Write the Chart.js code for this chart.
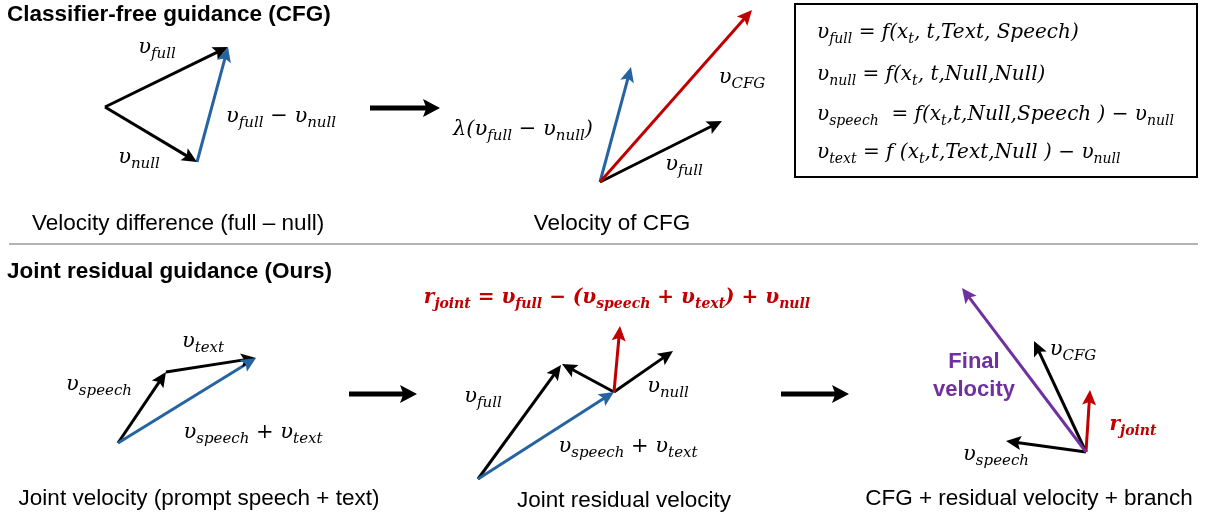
<!DOCTYPE html>
<html>
<head>
<meta charset="utf-8">
<title>CFG vs joint residual guidance</title>
<script src="https://cdn.jsdelivr.net/npm/chart.js@4.4.1/dist/chart.umd.min.js"></script>
<style>
  html, body { margin: 0; padding: 0; background: #fff; }
  #wrap { width: 1207px; height: 519px; }
</style>
</head>
<body>
<div id="wrap"><canvas id="diagram" width="1207" height="519"></canvas></div>
<script>
// vectors of the figure, in figure units (x right, y down)
const vectorNames = [
  'cfg_full', 'cfg_null', 'cfg_diff',
  'cfg2_diff', 'cfg2_full', 'cfg2_cfg',
  'joint_speech', 'joint_text', 'joint_sum',
  'res_full', 'res_back', 'res_null', 'res_sum', 'res_r',
  'fin_speech', 'fin_cfg', 'fin_r', 'fin_final'
];
const vectorStart = [
  [105, 107], [105, 107], [197, 162],
  [600, 182], [600, 182], [600, 182],
  [118, 443], [166, 372], [118, 443],
  [478, 479], [614, 392], [614, 392], [478, 479], [614, 392],
  [1086, 452], [1086, 452], [1086, 452], [1086, 452]
];
const vectorEnd = [
  [228, 47], [197, 162], [228, 47],
  [631, 67], [722, 121], [752, 10],
  [166, 372], [256, 358], [256, 358],
  [561, 365], [562, 364], [673, 351], [614, 392], [620, 326],
  [1006, 441], [1034, 341], [1090, 390], [962, 288]
];
// base = plain velocity, guide = difference / sum, residual = red, final = purple
const vectorKind = [
  'base', 'base', 'guide',
  'guide', 'base', 'residual',
  'base', 'base', 'guide',
  'base', 'base', 'base', 'guide', 'residual',
  'base', 'base', 'residual', 'final'
];

// the "→" between panels
const stepStart = [[370, 108], [349, 394], [781, 394]];
const stepEnd = [[440, 108], [417, 394], [849, 394]];

const sectionTitles = ['Classifier-free guidance (CFG)', 'Joint residual guidance (Ours)'];
const panelCaptions = [
  'Velocity difference (full – null)',
  'Velocity of CFG',
  'Joint velocity (prompt speech + text)',
  'Joint residual velocity',
  'CFG + residual velocity + branch'
];
const definitionLines = [
  'υ_{full} = f(x_{t}, t,Text, Speech)',
  'υ_{null} = f(x_{t}, t,Null,Null)',
  'υ_{speech}  = f(x_{t},t,Null,Speech ) − υ_{null}',
  'υ_{text} = f (x_{t},t,Text,Null ) − υ_{null}'
];
const vectorLabels = [
  'υ_{full}', 'υ_{full} − υ_{null}', 'υ_{null}',
  'λ(υ_{full} − υ_{null})', 'υ_{CFG}', 'υ_{full}',
  'υ_{text}', 'υ_{speech}', 'υ_{speech} + υ_{text}',
  'υ_{full}', 'υ_{null}', 'υ_{speech} + υ_{text}',
  'υ_{CFG}', 'υ_{speech}'
];
const residualLabels = ['r_{joint} = υ_{full} − (υ_{speech} + υ_{text}) + υ_{null}', 'r_{joint}'];
const finalLabel = ['Final', 'velocity'];

// ---- layout (not data) ----
const W = 1207, H = 519;
const SANS = '"Liberation Sans", Arial, sans-serif';
const MATH = '"DejaVu Serif", "Liberation Serif", serif';
const kindColor = { base: '#000000', guide: '#2563a1', residual: '#c00000', final: '#7030a0' };

const titlePos = [[7, 21], [7, 278]];
const captionPos = [[178, 230], [612, 230], [199, 505], [624, 507], [1029, 505]];
const definitionPos = [[817, 38], [817, 80], [817, 120], [817, 158]];
const labelPos = [
  [157, 53], [281, 122], [139, 163],
  [523, 135], [742, 83], [684, 170],
  [203, 347], [99, 390], [253, 438],
  [483, 402], [668, 392], [628, 452],
  [1073, 355], [996, 460]
];
const residualPos = [[617, 303], [1133, 430]];
const finalPos = [[974, 368], [974, 396]];
const boxRect = [795, 4, 1197, 177];
const divider = [[9, 244], [1198, 244]];

function parseRich(str) {
  const segs = [];
  const re = /_\{([^}]*)\}|([^_]+)/g;
  let m;
  while ((m = re.exec(str)) !== null) {
    if (m[1] !== undefined) segs.push({ text: m[1], sub: true });
    else segs.push({ text: m[2], sub: false });
  }
  return segs;
}

function drawRich(ctx, str, x, y, size, weight, color, align) {
  const segs = parseRich(str);
  const fontFor = s => `italic ${weight} ${s.sub ? Math.round(size * 0.72) : size}px ${MATH}`;
  let total = 0;
  segs.forEach(s => { ctx.font = fontFor(s); s.w = ctx.measureText(s.text).width; total += s.w; });
  let cx = align === 'center' ? x - total / 2 : x;
  ctx.fillStyle = color;
  ctx.textAlign = 'left';
  ctx.textBaseline = 'alphabetic';
  segs.forEach(s => {
    ctx.font = fontFor(s);
    ctx.fillText(s.text, cx, s.sub ? y + size * 0.26 : y);
    cx += s.w;
  });
}

const arrowPlugin = {
  id: 'arrowHeads',
  afterDatasetsUpdate(chart) {
    const xs = chart.scales.x, ys = chart.scales.y;
    chart.data.datasets.forEach((ds, i) => {
      if (!ds.arrow) return;
      const meta = chart.getDatasetMeta(i);
      const p0 = meta.data[0], p1 = meta.data[1];
      const tip = { x: xs.getPixelForValue(ds.data[1].x), y: ys.getPixelForValue(ds.data[1].y) };
      const dx = tip.x - p0.x, dy = tip.y - p0.y;
      const len = Math.hypot(dx, dy) || 1;
      const ux = dx / len, uy = dy / len;
      // pull the shaft back so it does not poke through the head
      p1.x = tip.x - ux * ds.arrow.len * 0.6;
      p1.y = tip.y - uy * ds.arrow.len * 0.6;
      meta._tip = tip;
      meta._dir = [ux, uy];
    });
  },
  afterDatasetsDraw(chart) {
    const ctx = chart.ctx;
    chart.data.datasets.forEach((ds, i) => {
      if (!ds.arrow) return;
      const meta = chart.getDatasetMeta(i);
      const t = meta._tip, [ux, uy] = meta._dir;
      const bx = t.x - ux * ds.arrow.len, by = t.y - uy * ds.arrow.len;
      const hw = ds.arrow.half;
      ctx.save();
      ctx.fillStyle = ds.borderColor;
      ctx.beginPath();
      ctx.moveTo(t.x, t.y);
      ctx.lineTo(bx - uy * hw, by + ux * hw);
      ctx.lineTo(t.x - ux * ds.arrow.len * 0.8, t.y - uy * ds.arrow.len * 0.8);
      ctx.lineTo(bx + uy * hw, by - ux * hw);
      ctx.closePath();
      ctx.fill();
      ctx.restore();
    });
  }
};

const framePlugin = {
  id: 'frame',
  beforeDatasetsDraw(chart) {
    const ctx = chart.ctx, xs = chart.scales.x, ys = chart.scales.y;
    const x0 = xs.getPixelForValue(boxRect[0]), y0 = ys.getPixelForValue(boxRect[1]);
    const x1 = xs.getPixelForValue(boxRect[2]), y1 = ys.getPixelForValue(boxRect[3]);
    ctx.save();
    ctx.strokeStyle = '#000';
    ctx.lineWidth = 2;
    ctx.strokeRect(x0, y0, x1 - x0, y1 - y0);
    ctx.restore();
  }
};

const textPlugin = {
  id: 'texts',
  afterDraw(chart) {
    const ctx = chart.ctx, xs = chart.scales.x, ys = chart.scales.y;
    const px = p => [xs.getPixelForValue(p[0]), ys.getPixelForValue(p[1])];
    ctx.save();
    ctx.textBaseline = 'alphabetic';
    ctx.fillStyle = '#000';
    ctx.font = `bold 22.5px ${SANS}`;
    ctx.textAlign = 'left';
    sectionTitles.forEach((t, i) => { const [x, y] = px(titlePos[i]); ctx.fillText(t, x, y); });
    ctx.font = `22.5px ${SANS}`;
    ctx.textAlign = 'center';
    panelCaptions.forEach((t, i) => { const [x, y] = px(captionPos[i]); ctx.fillText(t, x, y); });
    definitionLines.forEach((t, i) => { const [x, y] = px(definitionPos[i]); drawRich(ctx, t, x, y, 20, 'normal', '#000', 'left'); });
    vectorLabels.forEach((t, i) => { const [x, y] = px(labelPos[i]); drawRich(ctx, t, x, y, 21, 'normal', '#000', 'center'); });
    residualLabels.forEach((t, i) => { const [x, y] = px(residualPos[i]); drawRich(ctx, t, x, y, 20, 'bold', kindColor.residual, 'center'); });
    ctx.font = `bold 22px ${SANS}`;
    ctx.fillStyle = kindColor.final;
    ctx.textAlign = 'center';
    finalLabel.forEach((t, i) => { const [x, y] = px(finalPos[i]); ctx.fillText(t, x, y); });
    ctx.restore();
  }
};

const datasets = [];
datasets.push({
  label: 'divider',
  data: divider.map(p => ({ x: p[0], y: p[1] })),
  showLine: true, borderColor: '#b4b4b4', borderWidth: 2, pointRadius: 0
});
stepStart.forEach((s, i) => {
  datasets.push({
    label: 'step ' + (i + 1),
    data: [{ x: s[0], y: s[1] }, { x: stepEnd[i][0], y: stepEnd[i][1] }],
    showLine: true, borderColor: '#000', borderWidth: 5, pointRadius: 0,
    arrow: { len: 17, half: 9 }
  });
});
vectorNames.forEach((name, i) => {
  datasets.push({
    label: name,
    data: [{ x: vectorStart[i][0], y: vectorStart[i][1] }, { x: vectorEnd[i][0], y: vectorEnd[i][1] }],
    showLine: true, borderColor: kindColor[vectorKind[i]], borderWidth: 3, pointRadius: 0,
    arrow: { len: 15, half: 7 }
  });
});
// later datasets on top
datasets.forEach((d, i) => { d.order = datasets.length - i; });

new Chart(document.getElementById('diagram'), {
  type: 'scatter',
  data: { datasets },
  options: {
    responsive: false,
    animation: false,
    events: [],
    layout: { padding: 0 },
    plugins: { legend: { display: false }, tooltip: { enabled: false } },
    scales: {
      x: { type: 'linear', min: 0, max: W, display: false },
      y: { type: 'linear', min: 0, max: H, reverse: true, display: false }
    }
  },
  plugins: [arrowPlugin, framePlugin, textPlugin]
});
</script>
</body>
</html>
